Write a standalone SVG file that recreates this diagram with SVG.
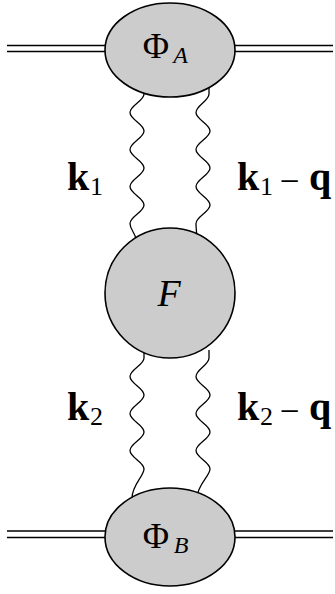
<svg xmlns="http://www.w3.org/2000/svg" width="335" height="594" viewBox="0 0 335 594">
<style>
.blob{fill:#cccccc;stroke:#000;stroke-width:1.6}
.ext{stroke:#000;stroke-width:1.6;fill:none}
.wave{stroke:#000;stroke-width:1.3;fill:none}
.t{font-family:"Liberation Serif","DejaVu Serif",serif;fill:#000}
.m{font-family:"Liberation Serif",serif;fill:#000;font-size:35px}
.b{font-weight:bold}
.i{font-style:italic}
</style>
<rect width="335" height="594" fill="#fff"/>
<g id="connectors">
<path class="ext" d="M7,45.5H106M7,51.5H106M234,45.5H333M234,51.5H333"/>
<path class="ext" d="M7,531H106M7,537.5H106M234,531H333M234,537.5H333"/>
<path class="wave" d="M144,88 L144,94 C144,101 130,105.5 130,112.5 S144,124 144,131 S130,142.5 130,149.5 S144,161 144,168 S130,179.5 130,186.5 S144,198 144,205 S130,216.5 130,223.5 S136,233 136,240"/>
<path class="wave" d="M209,86 L209,94 C209,101 196,105.5 196,112.5 S210,124 210,131 S196,142.5 196,149.5 S210,161 210,168 S196,179.5 196,186.5 S210,198 210,205 S196,216.5 196,223.5 S197,233 197,240"/>
<path class="wave" d="M144,350 L144,358 C144,365 130,369.5 130,376.5 S144,388 144,395 S130,406.5 130,413.5 S144,425 144,432 S130,443.5 130,450.5 S144,462 144,469 S132,485 132,498"/>
<path class="wave" d="M209,350 L209,358 C209,365 196,369.5 196,376.5 S210,388 210,395 S196,406.5 196,413.5 S210,425 210,432 S196,443.5 196,450.5 S210,462 210,469 S197,485 197,498"/>
</g>
<g id="PhiA">
<ellipse class="blob" cx="170" cy="50" rx="65" ry="47"/>
<text class="t" x="156" y="58" font-size="36" text-anchor="middle">Φ</text>
<text class="t i" x="180.5" y="63" font-size="24" text-anchor="middle">A</text>
</g>
<g id="F">
<circle class="blob" cx="170" cy="293" r="65"/>
<text class="t i" x="169" y="306" font-size="38" text-anchor="middle">F</text>
</g>
<g id="PhiB">
<ellipse class="blob" cx="170" cy="537" rx="65" ry="49"/>
<text class="t" x="156" y="548" font-size="36" text-anchor="middle">Φ</text>
<text class="t i" x="181" y="553" font-size="24" text-anchor="middle">B</text>
</g>
<g id="labels">
<text class="t b" x="67" y="190" font-size="40">k</text>
<text class="t" x="90" y="195" font-size="26">1</text>
<text class="t b" x="237" y="190" font-size="40">k</text>
<text class="t" x="260" y="195" font-size="26">1</text>
<text class="m" x="289.5" y="192.5" text-anchor="middle">−</text>
<text class="t b" x="309" y="190" font-size="40">q</text>
<text class="t b" x="67" y="420" font-size="40">k</text>
<text class="t" x="90" y="425" font-size="26">2</text>
<text class="t b" x="237" y="420" font-size="40">k</text>
<text class="t" x="260" y="425" font-size="26">2</text>
<text class="m" x="289.5" y="422.5" text-anchor="middle">−</text>
<text class="t b" x="309" y="420" font-size="40">q</text>
</g>
</svg>
